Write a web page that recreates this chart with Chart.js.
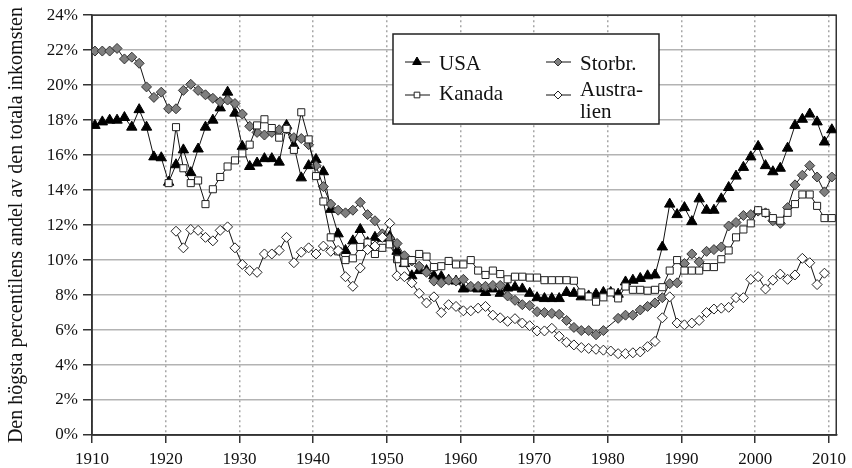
<!DOCTYPE html>
<html>
<head>
<meta charset="utf-8">
<script src="https://cdn.jsdelivr.net/npm/chart.js@4.4.0/dist/chart.umd.min.js"></script>
<style>
  html, body { margin: 0; padding: 0; background: #fff; }
</style>
</head>
<body>
<canvas id="chart" width="852" height="468"></canvas>
<script>
// values per year, 1910..2010 (null = no value)
const firstYear = 1910;

const usa = [
  17.7, 17.9, 18.0, 18.0, 18.15, 17.6, 18.6, 17.6, 15.9, 15.85,
  14.45, 15.45, 16.3, 15.0, 16.35, 17.6, 18.0, 18.7, 19.6, 18.4,
  16.5, 15.35, 15.55, 15.8, 15.8, 15.6, 17.7, 16.55, 14.7, 15.4,
  15.75, 15.05, 12.9, 11.5, 10.55, 11.1, 11.75, 11.0, 11.3, 11.25,
  11.35, 10.5, 9.8, 9.1, 9.4, 9.4, 9.1, 9.05, 8.85, 8.8,
  8.35, 8.4, 8.35, 8.15, 8.35, 8.1, 8.4, 8.45, 8.35, 8.1,
  7.85, 7.8, 7.8, 7.8, 8.15, 8.1, 7.9, 7.95, 8.05, 8.15,
  8.15, 8.05, 8.75, 8.85, 8.95, 9.1, 9.15, 10.75, 13.2, 12.6,
  13.0, 12.2, 13.5, 12.85, 12.85, 13.5, 14.15, 14.8, 15.3, 15.9,
  16.5, 15.4, 15.05, 15.25, 16.4, 17.7, 18.05, 18.35, 17.9, 16.75,
  17.45
];

const storbr = [
  21.95, 21.95, 21.95, 22.1, 21.5, 21.6, 21.25, 19.9, 19.3, 19.6,
  18.65, 18.65, 19.7, 20.05, 19.7, 19.45, 19.25, 19.05, 19.15, 18.95,
  18.35, 17.65, 17.3, 17.15, 17.3, 17.45, 17.5, 17.0, 16.95, 16.6,
  15.4, 14.2, 13.2, 12.85, 12.7, 12.85, 13.3, 12.6, 12.25, 11.5,
  11.25, 10.95, 10.25, 9.95, 9.65, 9.3, 8.8, 8.7, 8.85, 8.8,
  8.9, 8.5, 8.5, 8.5, 8.55, 8.55, 7.95, 7.7, 7.45, 7.4,
  7.05, 7.0, 6.95, 6.9, 6.55, 6.15, 5.97, 5.97, 5.73, 5.97,
  null, 6.67, 6.85, 6.85, 7.15, 7.35, 7.55, 7.85, 8.65, 8.7,
  9.8, 10.35, 9.9, 10.5, 10.6, 10.75, 11.95, 12.15, 12.55, 12.6,
  12.8, 12.7, 12.25, 12.1, 13.0, 14.3, 14.85, 15.4, 14.75, 13.9,
  14.75
];

const kanada = [
  null, null, null, null, null, null, null, null, null, null,
  14.4, 17.6, 15.25, 14.4, 14.55, 13.2, 14.05, 14.75, 15.35, 15.7,
  16.1, 16.6, 17.7, 18.05, 17.55, 17.0, 17.5, 16.3, 18.45, 16.9,
  14.8, 13.35, 11.3, 10.5, 10.0, 10.1, 10.75, 11.0, 10.35, 10.7,
  10.9, 10.05, 9.85, 10.0, 10.35, 10.2, 9.6, 9.65, 9.95, 9.75,
  9.75, 10.0, 9.4, 9.15, 9.4, 9.2, 8.9, 9.05, 9.05, 9.0,
  9.0, 8.85, 8.85, 8.85, 8.85, 8.82, 8.15, 7.92, 7.62, 7.87,
  8.15, 7.81, 8.49, 8.3, 8.3, 8.25, 8.3, 8.45, 9.4, 10.0,
  9.4, 9.4, 9.4, 9.6, 9.6, 10.05, 10.55, 11.3, 11.75, 12.1,
  12.85, 12.7, 12.4, 12.25, 12.7, 13.2, 13.75, 13.75, 13.1, 12.4,
  12.4
];

const australien = [
  null, null, null, null, null, null, null, null, null, null,
  null, 11.65, 10.7, 11.75, 11.7, 11.3, 11.1, 11.7, 11.9, 10.7,
  9.75, 9.4, 9.3, 10.35, 10.35, 10.55, 11.3, 9.85, 10.45, 10.7,
  10.35, 10.8, 10.5, 10.55, 9.05, 8.5, 9.55, 10.6, 10.8, 11.3,
  12.1, 9.1, 9.05, 8.7, 8.1, 7.55, 7.9, 7.0, 7.45, 7.35,
  7.1, 7.1, 7.25, 7.35, 6.85, 6.7, 6.5, 6.65, 6.4, 6.25,
  5.95, 5.95, 6.1, 5.65, 5.3, 5.15, 5.0, 4.95, 4.9, 4.85,
  4.8, 4.65, 4.65, 4.7, 4.75, 5.05, 5.35, 6.7, 7.9, 6.4,
  6.3, 6.4, 6.55, 7.0, 7.2, 7.25, 7.3, 7.85, 7.85, 8.9,
  9.05, 8.35, 8.85, 9.2, 8.9, 9.15, 10.1, 9.85, 8.6, 9.25,
  null
];

const tickYears = [1910, 1920, 1930, 1940, 1950, 1960, 1970, 1980, 1990, 2000, 2010];
const tickPercents = [0, 2, 4, 6, 8, 10, 12, 14, 16, 18, 20, 22, 24];

const seriesNames = ['USA', 'Storbr.', 'Kanada', 'Australien'];
const legendLines = [['USA'], ['Storbr.'], ['Kanada'], ['Austra-', 'lien']];

const serif = "'Liberation Serif', 'DejaVu Serif', serif";
const pointOffset = 0.4; // points sit in the middle of each year slot

function toPoints(values) {
  return values.map((v, i) => ({ x: firstYear + i + pointOffset, y: v }));
}

const styles = [
  { pointStyle: 'triangle', pointRadius: 6, pointBackgroundColor: '#000', pointBorderColor: '#000' },
  { pointStyle: 'rectRot', pointRadius: 5, pointBackgroundColor: '#7f7f7f', pointBorderColor: '#333' },
  { pointStyle: 'rect', pointRadius: 5, pointBackgroundColor: '#fff', pointBorderColor: '#222' },
  { pointStyle: 'rectRot', pointRadius: 5, pointBackgroundColor: '#fff', pointBorderColor: '#222' }
];

const allSeries = [usa, storbr, kanada, australien];

const datasets = allSeries.map((vals, i) => Object.assign({
  label: seriesNames[i],
  data: toPoints(vals),
  borderColor: '#111',
  borderWidth: 1,
  pointBorderWidth: 1,
  spanGaps: true,
  tension: 0,
  order: 4 - i
}, styles[i]));

// box around the plot area
const frame = {
  id: 'frame',
  beforeDatasetsDraw(chart) {
    const a = chart.chartArea, ctx = chart.ctx;
    ctx.save();
    ctx.strokeStyle = '#333';
    ctx.lineWidth = 1.5;
    ctx.strokeRect(a.left, a.top, a.right - a.left, a.bottom - a.top);
    ctx.restore();
  }
};

// legend box drawn inside the plot
const boxLegend = {
  id: 'boxLegend',
  afterDatasetsDraw(chart) {
    const ctx = chart.ctx;
    const bx = 393, by = 34, bw = 266, bh = 90;
    ctx.save();
    ctx.fillStyle = '#fff';
    ctx.fillRect(bx, by, bw, bh);
    ctx.strokeStyle = '#222';
    ctx.lineWidth = 1.5;
    ctx.strokeRect(bx, by, bw, bh);

    const cols = [417, 558];
    const rowMark = [62, 95];
    const rowText = [[70], [70], [100], [96, 118]];
    ctx.font = '21px ' + serif;
    ctx.textBaseline = 'alphabetic';
    ctx.textAlign = 'left';
    chart.data.datasets.forEach((ds, i) => {
      const cx = cols[i % 2], cy = rowMark[Math.floor(i / 2)];
      ctx.strokeStyle = '#111';
      ctx.lineWidth = 1;
      ctx.beginPath();
      ctx.moveTo(cx - 12, cy);
      ctx.lineTo(cx + 13, cy);
      ctx.stroke();
      ctx.fillStyle = ds.pointBackgroundColor;
      ctx.strokeStyle = ds.pointBorderColor;
      Chart.helpers.drawPoint(ctx, {
        pointStyle: ds.pointStyle,
        radius: ds.pointStyle === 'triangle' ? 5 : 4,
        borderWidth: 1,
        rotation: 0
      }, cx, cy);
      ctx.fillStyle = '#111';
      legendLines[i].forEach((t, k) => ctx.fillText(t, cx + 22, rowText[i][k]));
    });
    ctx.restore();
  }
};

new Chart(document.getElementById('chart').getContext('2d'), {
  type: 'line',
  data: { datasets },
  plugins: [frame, boxLegend],
  options: {
    responsive: false,
    animation: false,
    layout: { padding: { left: 0, right: 12, top: 13, bottom: 0 } },
    plugins: {
      legend: { display: false },
      tooltip: { enabled: false }
    },
    scales: {
      x: {
        type: 'linear',
        min: 1910,
        max: 2011,
        afterBuildTicks: s => { s.ticks = tickYears.map(v => ({ value: v })); },
        afterFit: s => { s.height = 33; },
        grid: { color: '#a6a6a6', lineWidth: 1.5, tickLength: 8, tickColor: '#333', tickWidth: 1.5, tickBorderDash: [] },
        border: { color: '#333', width: 1.5, dash: [2, 3] },
        ticks: {
          font: { family: serif, size: 17 },
          color: '#111',
          padding: 6,
          maxRotation: 0,
          autoSkip: false,
          callback: v => String(v)
        }
      },
      y: {
        min: 0,
        max: 24,
        afterBuildTicks: s => { s.ticks = tickPercents.map(v => ({ value: v })); },
        afterFit: s => { s.width = 92; },
        grid: { color: '#b3b3b3', lineWidth: 1.5, tickLength: 9, tickColor: '#333', tickWidth: 1.5 },
        border: { color: '#333', width: 1.5 },
        ticks: {
          font: { family: serif, size: 17 },
          color: '#111',
          padding: 5,
          callback: v => v + '%'
        },
        title: {
          display: true,
          text: 'Den högsta percentilens andel av den totala inkomsten',
          font: { family: serif, size: 20 },
          color: '#111',
          padding: { top: 5, bottom: 0 }
        }
      }
    }
  }
});
</script>
</body>
</html>
